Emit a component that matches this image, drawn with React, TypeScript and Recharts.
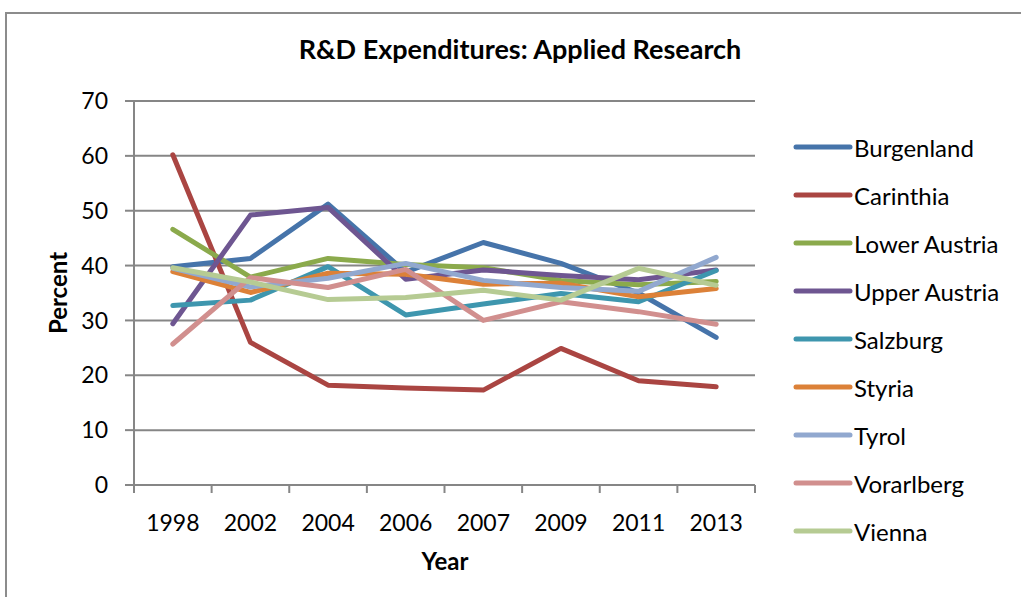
import { LineChart, Line, XAxis, YAxis, CartesianGrid } from "recharts";

const years = ["1998", "2002", "2004", "2006", "2007", "2009", "2011", "2013"];

const burgenland = [39.8, 41.3, 51.2, 38.8, 44.2, 40.4, 35.0, 26.9];
const carinthia = [60.2, 26.0, 18.2, 17.7, 17.3, 24.9, 19.0, 17.9];
const lowerAustria = [46.6, 37.9, 41.3, 40.2, 39.6, 37.3, 36.5, 37.1];
const upperAustria = [29.4, 49.2, 50.6, 37.5, 39.2, 38.2, 37.4, 39.2];
const salzburg = [32.7, 33.7, 39.8, 31.0, 33.0, 34.9, 33.4, 39.1];
const styria = [38.9, 35.1, 38.6, 38.4, 36.6, 36.8, 34.3, 35.8];
const tyrol = [39.5, 36.1, 37.7, 40.4, 37.3, 36.0, 35.3, 41.5];
const vorarlberg = [25.7, 37.8, 36.0, 39.3, 30.0, 33.4, 31.6, 29.3];
const vienna = [39.6, 37.0, 33.8, 34.2, 35.5, 33.7, 39.5, 36.4];

const yTicks = [0, 10, 20, 30, 40, 50, 60, 70];

const series = [
  { key: "Burgenland", values: burgenland, color: "#4674AA" },
  { key: "Carinthia", values: carinthia, color: "#AA4542" },
  { key: "Lower Austria", values: lowerAustria, color: "#8BAA4C" },
  { key: "Upper Austria", values: upperAustria, color: "#6E5691" },
  { key: "Salzburg", values: salzburg, color: "#3E96AE" },
  { key: "Styria", values: styria, color: "#DC8138" },
  { key: "Tyrol", values: tyrol, color: "#91A8CF" },
  { key: "Vorarlberg", values: vorarlberg, color: "#D18F8E" },
  { key: "Vienna", values: vienna, color: "#B6CB93" },
];

const data = years.map((year, i) => {
  const row: Record<string, string | number> = { year };
  series.forEach((s) => {
    row[s.key] = s.values[i];
  });
  return row;
});

const W = 1021;
const H = 597;
const PLOT_LEFT = 134;
const PLOT_RIGHT = 755;
const HALF_BAND = (PLOT_RIGHT - PLOT_LEFT) / years.length / 2;
const FONT = "Lato, 'Open Sans', sans-serif";
const GRAY = "#868686";

const YearTick = (props: any) => {
  const { x, y, payload, index } = props;
  const last = index === years.length - 1;
  return (
    <g>
      <line x1={x - HALF_BAND} y1={y} x2={x - HALF_BAND} y2={y + 8} stroke={GRAY} strokeWidth={2} />
      {last && (
        <line x1={x + HALF_BAND} y1={y} x2={x + HALF_BAND} y2={y + 8} stroke={GRAY} strokeWidth={2} />
      )}
      <text x={x} y={y + 30} dy="0.71em" textAnchor="middle" fontSize={23} fontFamily={FONT} fill="#000">
        {payload.value}
      </text>
    </g>
  );
};

export default function App() {
  return (
    <div style={{ position: "absolute", left: 0, top: 0, width: W, height: H, overflow: "hidden", background: "#fff" }}>
      <div
        style={{
          position: "absolute",
          left: 5,
          top: 12,
          width: 1100,
          height: 700,
          border: "2px solid #8c8c8c",
        }}
      />
      <div
        style={{
          position: "absolute",
          left: 0,
          width: 1040,
          top: 32,
          textAlign: "center",
          fontFamily: FONT,
          fontWeight: 700,
          fontSize: 27,
        }}
      >
        R&amp;D Expenditures: Applied Research
      </div>
      <div
        style={{
          position: "absolute",
          left: 57,
          top: 293,
          transform: "translate(-50%, -50%) rotate(-90deg)",
          fontFamily: FONT,
          fontWeight: 700,
          fontSize: 24,
        }}
      >
        Percent
      </div>
      <div
        style={{
          position: "absolute",
          left: 445,
          top: 560,
          transform: "translate(-50%, -50%)",
          fontFamily: FONT,
          fontWeight: 700,
          fontSize: 24,
        }}
      >
        Year
      </div>
      <div style={{ position: "absolute", left: 792, top: 123, fontFamily: FONT, fontSize: 24 }}>
        {series.map((s) => (
          <div key={s.key} style={{ display: "flex", alignItems: "center", height: 48 }}>
            <svg width={62} height={10}>
              <line x1={4} y1={5} x2={58} y2={5} stroke={s.color} strokeWidth={5} strokeLinecap="round" />
            </svg>
            <span style={{ color: "#000" }}>{s.key}</span>
          </div>
        ))}
      </div>
      <LineChart
        width={W}
        height={H}
        data={data}
        margin={{ top: 101, right: W - PLOT_RIGHT, bottom: 72, left: 0 }}
        style={{ position: "absolute", left: 0, top: 0 }}
      >
        <CartesianGrid vertical={false} stroke={GRAY} strokeWidth={2} />
        <XAxis
          dataKey="year"
          height={40}
          padding={{ left: HALF_BAND, right: HALF_BAND }}
          tickSize={0}
          tickMargin={0}
          axisLine={{ stroke: GRAY, strokeWidth: 2 }}
          tickLine={false}
          tick={<YearTick />}
          interval={0}
        />
        <YAxis
          width={PLOT_LEFT}
          domain={[0, 70]}
          ticks={yTicks}
          tickSize={9}
          tickMargin={17}
          axisLine={{ stroke: GRAY, strokeWidth: 2 }}
          tickLine={{ stroke: GRAY, strokeWidth: 2 }}
          tick={{ fontSize: 23, fontFamily: FONT, fill: "#000" }}
          interval={0}
        />
        {series.map((s) => (
          <Line
            key={s.key}
            type="linear"
            dataKey={s.key}
            stroke={s.color}
            strokeWidth={5}
            strokeLinecap="round"
            strokeLinejoin="round"
            dot={false}
            isAnimationActive={false}
          />
        ))}
      </LineChart>
    </div>
  );
}
